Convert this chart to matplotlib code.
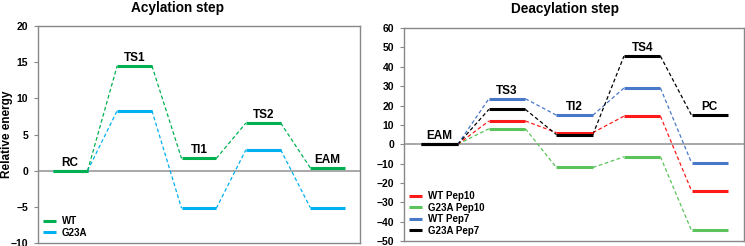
import matplotlib.pyplot as plt

plt.rcParams['font.family'] = ['Liberation Sans', 'DejaVu Sans']
plt.rcParams['font.weight'] = 'bold'

# acylation step
acyl_states = ["RC", "TS1", "TI1", "TS2", "EAM"]
acyl_wt = [0, 14.5, 1.7, 6.6, 0.4]
acyl_g23a = [0, 8.3, -5.2, 2.9, -5.1]

# deacylation step
deacyl_states = ["EAM", "TS3", "TI2", "TS4", "PC"]
wt_pep10 = [0, 12, 6, 14.5, -24]
g23a_pep10 = [0, 8, -12, -6.5, -44.5]
wt_pep7 = [0, 23.5, 15, 29, -9.5]
g23a_pep7 = [0, 18, 5, 45.5, 15]


def draw_profile(ax, values, color, label, half=0.27):
    # horizontal level for each state plus dashed connectors
    for i, v in enumerate(values):
        x = i + 1
        ax.plot([x - half, x + half], [v, v], color=color, lw=2.2,
                solid_capstyle='butt', label=label if i == 0 else None, zorder=3)
        if i < len(values) - 1:
            ax.plot([x + half, x + 1 - half], [v, values[i + 1]], color=color,
                    lw=0.9, ls=(0, (3, 2)), zorder=2)


def label_states(ax, states, tops, offset):
    for i, (s, t) in enumerate(zip(states, tops)):
        ax.text(i + 1, t + offset, s, ha='center', va='bottom',
                fontsize=8.5, fontweight='bold')


def style_axes(ax):
    ax.axhline(0, color='#999999', lw=1.2, zorder=1)
    for sp in ax.spines.values():
        sp.set_color('#888888')
        sp.set_linewidth(1)
    ax.set_xticks([])
    ax.tick_params(axis='y', labelsize=7.5, length=3, color='#888888', pad=4)
    for lab in ax.get_yticklabels():
        lab.set_fontweight('bold')


leg_kw = dict(loc='lower left', frameon=False, handlelength=1.3,
              handletextpad=0.6, labelspacing=0.15, borderaxespad=0.15,
              prop={'weight': 'bold', 'size': 7})

fig = plt.figure(figsize=(7.45, 2.46), dpi=100)

ax1 = fig.add_axes([0.051, 0.012, 0.432, 0.882])
draw_profile(ax1, acyl_g23a, '#00B0F0', 'G23A')
draw_profile(ax1, acyl_wt, '#00B050', 'WT')
ax1.set_xlim(0.5, 5.5)
ax1.set_ylim(-10, 20)
ax1.set_yticks([-10, -5, 0, 5, 10, 15, 20])
style_axes(ax1)
acyl_tops = [max(a, b) for a, b in zip(acyl_wt, acyl_g23a)]
label_states(ax1, acyl_states, acyl_tops, 0.3)
ax1.set_title("Acylation step", fontsize=9.8, fontweight='bold', x=0.435, pad=10)
fig.text(0.009, 0.455, "Relative energy", rotation=90, ha='center', va='center',
         fontsize=8.5, fontweight='bold')
h, l = ax1.get_legend_handles_labels()
ax1.legend(h[::-1], l[::-1], **leg_kw)

ax2 = fig.add_axes([0.542, 0.02, 0.456, 0.866])
draw_profile(ax2, g23a_pep10, '#5BC35B', 'G23A Pep10')
draw_profile(ax2, wt_pep10, '#FF1A1A', 'WT Pep10')
draw_profile(ax2, wt_pep7, '#4A78C8', 'WT Pep7')
draw_profile(ax2, g23a_pep7, '#000000', 'G23A Pep7')
ax2.set_xlim(0.47, 5.5)
ax2.set_ylim(-50, 60)
ax2.set_yticks(range(-50, 61, 10))
style_axes(ax2)
deacyl_tops = [max(v) for v in zip(wt_pep10, g23a_pep10, wt_pep7, g23a_pep7)]
label_states(ax2, deacyl_states, deacyl_tops, 1.0)
ax2.set_title("Deacylation step", fontsize=9.8, fontweight='bold', x=0.476, pad=11)
h, l = ax2.get_legend_handles_labels()
order = [l.index(n) for n in ["WT Pep10", "G23A Pep10", "WT Pep7", "G23A Pep7"]]
ax2.legend([h[i] for i in order], [l[i] for i in order], **leg_kw)

fig.savefig("out.png", dpi=100)
